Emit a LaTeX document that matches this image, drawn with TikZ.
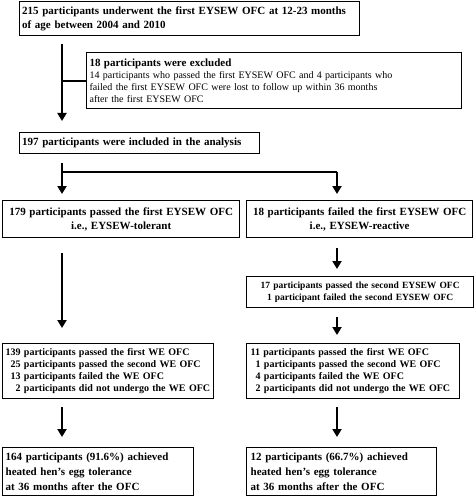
\documentclass[tikz,border=0pt]{standalone}
\usepackage{fontspec}
\setmainfont{Liberation Serif}
\usetikzlibrary{arrows.meta}
\begin{document}
\begin{tikzpicture}[x=1pt,y=-1pt,
  box/.style={draw=black, line width=1.3pt, anchor=north west, inner sep=0pt, font=\fontsize{11}{14}\selectfont\bfseries},
  small/.style={font=\fontsize{10}{12}\selectfont\bfseries},
  conn/.style={line width=2.6pt},
  arr/.style={line width=2.6pt, -{Triangle[length=8pt,width=9pt]}},
]
\useasboundingbox (0,0) rectangle (474,497);
% boxes
\node[box, minimum width=340pt, minimum height=34pt, text width=335pt, align=left] (b1) at (19,1)
 {215 participants underwent the first EYSEW OFC at 12-23 months\\of age between 2004 and 2010};
\node[box, minimum width=375pt, minimum height=56pt, text width=369pt, align=left,
  font=\fontsize{10}{12}\selectfont] (b2) at (86,52)
 {{\fontsize{11}{12}\selectfont\bfseries 18 participants were excluded}\\
  14 participants who passed the first EYSEW OFC and 4 participants who\\
  failed the first EYSEW OFC were lost to follow up within 36 months\\
  after the first EYSEW OFC};
\node[box, minimum width=240pt, minimum height=21pt, text width=235pt, align=left] (b3) at (19,132)
 {197 participants were included in the analysis};
\node[box, minimum width=237pt, minimum height=37pt, text width=230pt, align=center] (b4l) at (2,200)
 {179 participants passed the first EYSEW OFC\\i.e., EYSEW-tolerant};
\node[box, minimum width=226pt, minimum height=37pt, text width=220pt, align=center] (b4r) at (246,200)
 {18 participants failed the first EYSEW OFC\\i.e., EYSEW-reactive};
\node[box, minimum width=227pt, minimum height=31pt, text width=220pt, align=center,
  font=\fontsize{9.5}{12.5}\selectfont\bfseries] (b5r0) at (246,276)
 {17 participants passed the second EYSEW OFC\\1 participant failed the second EYSEW OFC};
\node[box, small, minimum width=211pt, minimum height=55pt, text width=205pt, align=left] (b5l) at (2,343)
 {139 participants passed the first WE OFC\\
  \phantom{0}25 participants passed the second WE OFC\\
  \phantom{0}13 participants failed the WE OFC\\
  \phantom{00}2 participants did not undergo the WE OFC};
\node[box, small, minimum width=213pt, minimum height=55pt, text width=205pt, align=left] (b5r) at (246,343)
 {11 participants passed the first WE OFC\\
  \phantom{0}1 participants passed the second WE OFC\\
  \phantom{0}4 participants failed the WE OFC\\
  \phantom{0}2 participants did not undergo the WE OFC};
\node[box, minimum width=191pt, minimum height=48pt, text width=185pt, align=left,
  font=\fontsize{11}{15}\selectfont\bfseries] (b6l) at (2,447)
 {164 participants (91.6\%) achieved\\heated hen’s egg tolerance\\at 36 months after the OFC};
\node[box, minimum width=190pt, minimum height=48pt, text width=182pt, align=left,
  font=\fontsize{11}{15}\selectfont\bfseries] (b6r) at (246,447)
 {12 participants (66.7\%) achieved\\heated hen’s egg tolerance\\at 36 months after the OFC};
% connector coordinates
\coordinate (L) at (62,0);
\coordinate (R) at (337,0);
\coordinate (j1) at (62,81);
\coordinate (j2) at (62,172);
\coordinate (j3) at (337,172);
% connectors
\draw[arr, shorten <=8pt, shorten >=11pt] (b1.south -| L) -- (b3.north -| L);
\draw[conn] (j1) -- (b2.west |- j1);
\draw[conn, shorten <=9pt] (b3.south -| L) -- (j2) -- (j3);
\draw[arr, shorten >=6pt] (j2) -- (b4l.north -| L);
\draw[arr, shorten >=6pt] (j3) -- (b4r.north -| R);
\draw[arr, shorten <=15pt, shorten >=15pt] (b4l.south -| L) -- (b5l.north -| L);
\draw[arr, shorten <=10pt, shorten >=7pt] (b4r.south -| R) -- (b5r0.north -| R);
\draw[arr, shorten <=9pt, shorten >=8pt] (b5r0.south -| R) -- (b5r.north -| R);
\draw[arr, shorten <=8pt, shorten >=10pt] (b5l.south -| L) -- (b6l.north -| L);
\draw[arr, shorten <=8pt, shorten >=10pt] (b5r.south -| R) -- (b6r.north -| R);
\end{tikzpicture}
\end{document}
